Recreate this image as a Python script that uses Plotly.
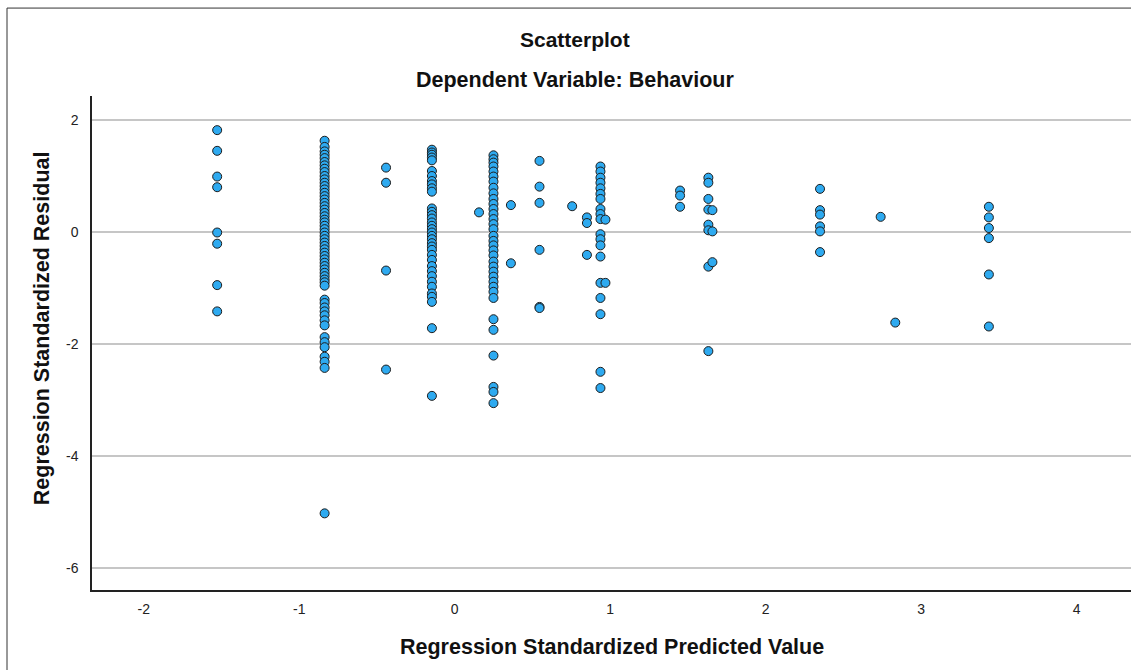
import plotly.graph_objects as go

# ---- data: predicted value (x) for each column, with its residuals (y) ----
x_m153 = -1.528
y_m153 = [1.82, 1.45, 0.99, 0.80, -0.01, -0.21, -0.95, -1.42]

x_m084 = -0.837
y_m084 = [1.63, 1.52, 1.44, 1.38, 1.32, 1.25, 1.19, 1.13, 1.07, 1.00, 0.94, 0.88,
          0.82, 0.76, 0.70, 0.64, 0.58, 0.52, 0.46, 0.40, 0.34, 0.28, 0.22, 0.17,
          0.11, 0.05, -0.01, -0.07, -0.13, -0.19, -0.25, -0.31, -0.37, -0.43,
          -0.49, -0.55, -0.61, -0.67, -0.73, -0.79, -0.85, -0.90, -0.96,
          -1.21, -1.27, -1.35, -1.42, -1.49, -1.58, -1.67, -1.88, -1.97, -2.06,
          -2.23, -2.32, -2.43, -5.03]

x_m044 = -0.442
y_m044 = [1.15, 0.88, -0.69, -2.46]

x_m015 = -0.147
y_m015 = [1.47, 1.42, 1.38, 1.33, 1.28, 1.09, 1.00, 0.91, 0.85, 0.78, 0.72, 0.42,
          0.36, 0.30, 0.24, 0.17, 0.11, 0.05, -0.01, -0.07, -0.13, -0.20, -0.26,
          -0.32, -0.41, -0.50, -0.61, -0.70, -0.79, -0.89, -0.98, -1.10, -1.16,
          -1.25, -1.72, -2.93]

x_p016 = 0.156
y_p016 = [0.35]

x_p025 = 0.249
y_p025 = [1.37, 1.30, 1.24, 1.17, 1.08, 0.99, 0.90, 0.79, 0.69, 0.59, 0.50, 0.41,
          0.32, 0.23, 0.14, 0.05, -0.07, -0.16, -0.24, -0.33, -0.42, -0.53, -0.62,
          -0.71, -0.80, -0.89, -0.98, -1.07, -1.18, -1.56, -1.75, -2.21, -2.77,
          -2.86, -3.06]

x_p036 = 0.361
y_p036 = [0.48, -0.56]

x_p055 = 0.545
y_p055 = [1.27, 0.81, 0.52, -0.32, -1.34, -1.36]

x_p076 = 0.755
y_p076 = [0.46]

x_p085 = 0.850
y_p085 = [0.26, 0.16, -0.41]

x_p094 = 0.937
y_p094 = [1.17, 1.08, 0.97, 0.88, 0.78, 0.68, 0.59, 0.41, 0.32, 0.23, -0.04,
          -0.13, -0.24, -0.44, -0.91, -1.18, -1.47, -2.50, -2.79]

x_p097 = 0.969
y_p097 = [0.22, -0.91]

x_p145 = 1.449
y_p145 = [0.74, 0.65, 0.45]

x_p163 = 1.631
y_p163 = [0.97, 0.88, 0.59, 0.40, 0.13, 0.03, -0.62, -2.13]

x_p166 = 1.657
y_p166 = [0.39, 0.01, -0.54]

x_p235 = 2.349
y_p235 = [0.77, 0.39, 0.31, 0.10, 0.01, -0.36]

x_p274 = 2.739
y_p274 = [0.27]

x_p283 = 2.833
y_p283 = [-1.62]

x_p344 = 3.435
y_p344 = [0.45, 0.26, 0.07, -0.11, -0.76, -1.69]

columns = [
    (x_m153, y_m153), (x_m084, y_m084), (x_m044, y_m044), (x_m015, y_m015),
    (x_p016, y_p016), (x_p025, y_p025), (x_p036, y_p036), (x_p055, y_p055),
    (x_p076, y_p076), (x_p085, y_p085), (x_p094, y_p094), (x_p097, y_p097),
    (x_p145, y_p145), (x_p163, y_p163), (x_p166, y_p166), (x_p235, y_p235),
    (x_p274, y_p274), (x_p283, y_p283), (x_p344, y_p344),
]

x_ticks = [-2, -1, 0, 1, 2, 3, 4]
y_ticks = [-6, -4, -2, 0, 2]

title_text = "Scatterplot"
subtitle_text = "Dependent Variable: Behaviour"
x_title = "Regression Standardized Predicted Value"
y_title = "Regression Standardized Residual"

xs, ys = [], []
for xv, yl in columns:
    for yv in yl:
        xs.append(xv)
        ys.append(yv)

FONT = "Liberation Sans, Arial, sans-serif"

fig = go.Figure()
fig.add_trace(go.Scatter(
    x=xs, y=ys, mode="markers",
    marker=dict(size=9, color="#2EAAF0", line=dict(color="#1c1c1c", width=1)),
    showlegend=False, hoverinfo="x+y",
))

fig.update_layout(
    width=1131, height=670,
    margin=dict(l=92, r=0, t=96, b=80, pad=0),
    paper_bgcolor="white", plot_bgcolor="white",
    font=dict(family=FONT, color="#1a1a1a"),
    xaxis=dict(
        range=[-2.333, 4.349], tickvals=x_ticks, ticktext=[str(v) for v in x_ticks],
        showgrid=False, zeroline=False, showline=True, linecolor="#222222",
        linewidth=1.5, ticks="", tickfont=dict(size=14, family=FONT, color="#222222"),
        ticklabelstandoff=5,
    ),
    yaxis=dict(
        range=[-6.40, 2.43], tickvals=y_ticks, ticktext=[str(v) for v in y_ticks],
        showgrid=True, gridcolor="#c6c6c6", gridwidth=1.5, zeroline=False,
        showline=True, linecolor="#222222", linewidth=1.5, ticks="",
        tickfont=dict(size=14, family=FONT, color="#222222"),
        ticklabelstandoff=9,
    ),
    annotations=[
        dict(text=title_text, x=0.4649, y=1.1134, xref="paper", yref="paper",
             showarrow=False, xanchor="center", yanchor="middle",
             font=dict(size=21, family=FONT, color="#111111", weight="bold")),
        dict(text=subtitle_text, x=0.4649, y=1.0324, xref="paper", yref="paper",
             showarrow=False, xanchor="center", yanchor="middle",
             font=dict(size=21.5, family=FONT, color="#111111", weight="bold")),
        dict(text=x_title, x=0.5, y=-0.1154, xref="paper", yref="paper",
             showarrow=False, xanchor="center", yanchor="middle",
             font=dict(size=21.5, family=FONT, color="#111111", weight="bold")),
        dict(text=y_title, x=-0.0481, y=0.530, xref="paper", yref="paper",
             showarrow=False, xanchor="center", yanchor="middle", textangle=-90,
             font=dict(size=21.5, family=FONT, color="#111111", weight="bold")),
    ],
    shapes=[
        dict(type="line", xref="paper", yref="paper", x0=-0.0818, x1=1.0,
             y0=1.178, y1=1.178, line=dict(color="#333333", width=1)),
        dict(type="line", xref="paper", yref="paper", x0=-0.0818, x1=-0.0818,
             y0=1.178, y1=-0.17, line=dict(color="#333333", width=1)),
    ],
)

fig.write_html("out.html", config={"displayModeBar": False},
               post_script="document.body.style.margin='0px';")
